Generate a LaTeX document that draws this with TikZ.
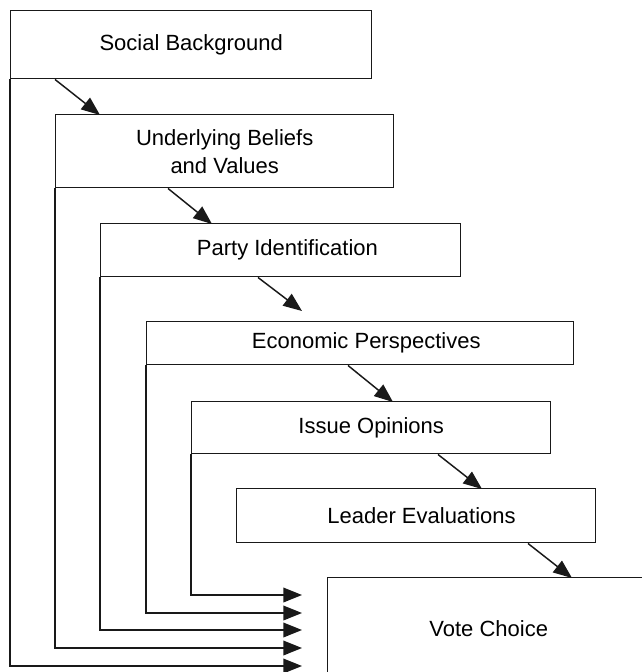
\documentclass[tikz,border=0pt]{standalone}
\usepackage{fontspec}
\setmainfont{Liberation Sans}
\usepackage{tikz}
\usetikzlibrary{arrows.meta,calc}

\tikzset{
  stage/.style={draw=black!90, rectangle, anchor=north west, inner sep=0pt,
    align=center, font=\fontsize{16.5}{21}\selectfont},
  link/.style={->, black!90},
}

\begin{document}
\begin{tikzpicture}[x=0.75pt, y=-0.75pt, >={Triangle[length=14pt,width=11pt]}, line width=1.1pt]
  \useasboundingbox (0,0) rectangle (642,672);
  \clip (0,0) rectangle (642,672);

  % stages of the model
  \node[stage, minimum width=270.75pt, minimum height=51pt] (sb) at (10,10) {Social Background};
  \node[stage, minimum width=253.5pt, minimum height=54.75pt] (ub) at (55,114) {Underlying Beliefs\\and Values};
  \node[stage, minimum width=270pt, minimum height=39.75pt] (pi) at (100,223) {\hspace*{10pt}Party Identification};
  \node[stage, minimum width=320.25pt, minimum height=32.25pt] (ep) at (146,321) {\hspace*{9pt}Economic Perspectives};
  \node[stage, minimum width=269.25pt, minimum height=39pt] (io) at (191,401) {Issue Opinions};
  \node[stage, minimum width=269.25pt, minimum height=40.5pt] (le) at (236,488) {\hspace*{8pt}Leader Evaluations};
  \node[stage, minimum width=241.5pt, minimum height=76.5pt] (vc) at (327,577) {Vote Choice};

  % chain of effects
  \draw[link] ($(sb.south west)+(45,0)$) -- ($(ub.north west)+(45,1)$);
  \draw[link] ($(ub.south west)+(113,0)$) -- ($(pi.north west)+(112,1)$);
  \draw[link] ($(pi.south west)+(158,0)$) -- ($(ep.north west)+(156,-10)$);
  \draw[link] ($(ep.south west)+(202,0)$) -- ($(io.north west)+(202,1)$);
  \draw[link] ($(io.south west)+(247,0)$) -- ($(le.north west)+(246,1)$);
  \draw[link] ($(le.south west)+(292,0)$) -- ($(vc.north west)+(245,1)$);

  % direct effects on the vote
  \coordinate (in1) at (302,595);
  \coordinate (in2) at (302,613);
  \coordinate (in3) at (302,630);
  \coordinate (in4) at (302,648);
  \coordinate (in5) at (302,666);
  \draw[link] (io.south west) |- (in1);
  \draw[link] (ep.south west) |- (in2);
  \draw[link] (pi.south west) |- (in3);
  \draw[link] (ub.south west) |- (in4);
  \draw[link] (sb.south west) |- (in5);
\end{tikzpicture}
\end{document}
